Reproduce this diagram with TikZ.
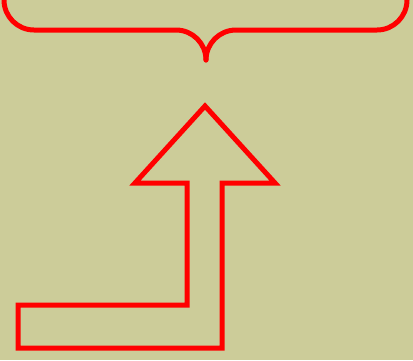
\documentclass[tikz,border=0pt]{standalone}
\definecolor{bgolive}{RGB}{204,204,153}
\definecolor{shapered}{RGB}{255,0,0}
\begin{document}
\begin{tikzpicture}[x=1pt,y=-1pt,
  outline/.style={draw=shapered,line width=5pt,line join=miter},
  bracestroke/.style={draw=shapered,line width=5pt,line cap=round,line join=round}]
\fill[bgolive] (0,0) rectangle (413,360);
\useasboundingbox (0,0) rectangle (413,360);
% brace
\draw[bracestroke] (4,-10) -- (4,0) arc[start angle=180,end angle=90,radius=30] -- (176,30)
  arc[start angle=-90,end angle=0,radius=30] ;
\draw[bracestroke] (407,-10) -- (407,0) arc[start angle=0,end angle=90,radius=30] -- (236,30)
  arc[start angle=-90,end angle=-180,radius=30];
% bent arrow
\draw[outline] (205,106) -- (275,183) -- (222,183) -- (222,348) -- (18,348) -- (18,305)
  -- (187,305) -- (187,183) -- (135,183) -- cycle;
\end{tikzpicture}
\end{document}
